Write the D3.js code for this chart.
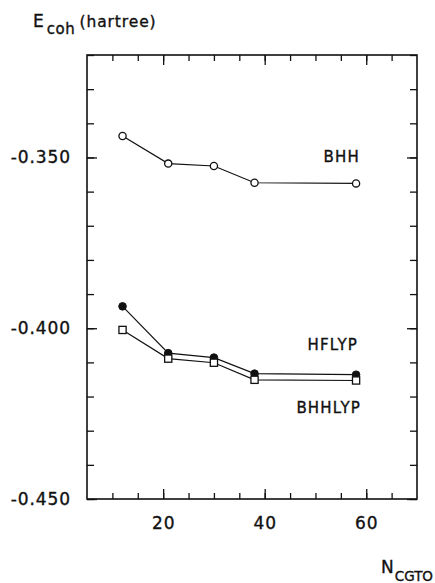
<!DOCTYPE html>
<html>
<head>
<meta charset="utf-8">
<script src="https://cdn.jsdelivr.net/npm/d3@7"></script>
<style>
  html, body { margin: 0; padding: 0; background: #fff; }
  svg { display: block; }
  text { font-family: "DejaVu Sans", "Liberation Sans", sans-serif; fill: #111; stroke: #111; stroke-width: 0.35px; }
</style>
</head>
<body>
<svg id="chart" width="435" height="583"></svg>
<script>
// Cohesive energy vs. number of contracted Gaussian orbitals
const nCGTO = [12, 21, 30, 38, 58];
const bhh = [-0.3437, -0.3518, -0.3525, -0.3574, -0.3576];
const hflyp = [-0.3936, -0.4073, -0.4086, -0.4133, -0.4136];
const bhhlyp = [-0.4005, -0.4089, -0.4101, -0.4151, -0.4153];

const xMinorTicks = d3.range(10, 70, 5);
const xMajorTicks = [20, 40, 60];
const yMinorTicks = d3.range(-45, -31, 1).map(v => v / 100);
const yMajorTicks = [-0.45, -0.40, -0.35];

const seriesLabels = ["BHH", "HFLYP", "BHHLYP"];

const svg = d3.select("#chart");
const plotLeft = 87, plotRight = 417, plotTop = 55, plotBottom = 499;

const x = d3.scaleLinear().domain([5, 70]).range([plotLeft, plotRight]);
const y = d3.scaleLinear().domain([-0.45, -0.32]).range([plotBottom, plotTop]);

// plain hyphen for negative numbers
const yFormat = v => d3.format(".3f")(v).replace("\u2212", "-");

const axisStyle = g => {
  g.select(".domain").remove();
  g.selectAll(".tick line").attr("stroke", "#111").attr("stroke-width", 1.3);
  g.selectAll(".tick text").style("font-size", "17px").style("letter-spacing", "0.9px").attr("fill", "#111");
};

// bottom axis: minor and major inward ticks
svg.append("g").attr("transform", `translate(0,${plotBottom})`)
  .call(d3.axisBottom(x).tickValues(xMinorTicks).tickSize(-6).tickFormat(""))
  .call(axisStyle);
svg.append("g").attr("transform", `translate(0,${plotBottom})`)
  .call(d3.axisBottom(x).tickValues(xMajorTicks).tickSize(-10).tickPadding(18).tickFormat(d3.format("d")))
  .call(axisStyle);
// top axis
svg.append("g").attr("transform", `translate(0,${plotTop})`)
  .call(d3.axisTop(x).tickValues(xMinorTicks).tickSize(-6).tickFormat(""))
  .call(axisStyle);
svg.append("g").attr("transform", `translate(0,${plotTop})`)
  .call(d3.axisTop(x).tickValues(xMajorTicks).tickSize(-10).tickFormat(""))
  .call(axisStyle);
// left axis
svg.append("g").attr("transform", `translate(${plotLeft},0)`)
  .call(d3.axisLeft(y).tickValues(yMinorTicks).tickSize(-7).tickFormat(""))
  .call(axisStyle);
svg.append("g").attr("transform", `translate(${plotLeft},0)`)
  .call(d3.axisLeft(y).tickValues(yMajorTicks).tickSize(-10).tickPadding(16).tickFormat(yFormat))
  .call(axisStyle);
// right axis
svg.append("g").attr("transform", `translate(${plotRight},0)`)
  .call(d3.axisRight(y).tickValues(yMinorTicks).tickSize(-7).tickFormat(""))
  .call(axisStyle);
svg.append("g").attr("transform", `translate(${plotRight},0)`)
  .call(d3.axisRight(y).tickValues(yMajorTicks).tickSize(-10).tickFormat(""))
  .call(axisStyle);

// frame
svg.append("rect")
  .attr("x", plotLeft).attr("y", plotTop)
  .attr("width", plotRight - plotLeft).attr("height", plotBottom - plotTop)
  .attr("fill", "none").attr("stroke", "#111").attr("stroke-width", 1.6);

const line = d3.line().x((d, i) => x(nCGTO[i])).y(d => y(d));

[bhh, hflyp, bhhlyp].forEach(s => {
  svg.append("path").datum(s).attr("d", line)
    .attr("fill", "none").attr("stroke", "#111").attr("stroke-width", 1.2);
});

// markers
svg.append("g").selectAll("circle").data(bhh).join("circle")
  .attr("cx", (d, i) => x(nCGTO[i])).attr("cy", d => y(d)).attr("r", 3.6)
  .attr("fill", "#fff").attr("stroke", "#111").attr("stroke-width", 1.3);
svg.append("g").selectAll("circle").data(hflyp).join("circle")
  .attr("cx", (d, i) => x(nCGTO[i])).attr("cy", d => y(d)).attr("r", 3.8)
  .attr("fill", "#111").attr("stroke", "#111").attr("stroke-width", 1);
svg.append("g").selectAll("rect").data(bhhlyp).join("rect")
  .attr("x", (d, i) => x(nCGTO[i]) - 3.6).attr("y", d => y(d) - 3.6)
  .attr("width", 7.2).attr("height", 7.2)
  .attr("fill", "#fff").attr("stroke", "#111").attr("stroke-width", 1.3);

// series labels
const labelPos = [[360, 162], [358, 350], [361, 413]];
seriesLabels.forEach((t, i) => {
  svg.append("text").attr("x", labelPos[i][0]).attr("y", labelPos[i][1])
    .attr("text-anchor", "end").style("font-size", "15px").style("letter-spacing", "1.2px")
    .text(t);
});

// axis titles
const yTitle = svg.append("text").attr("x", 33).attr("y", 27).style("font-size", "17px");
yTitle.append("tspan").text("E");
yTitle.append("tspan").attr("dy", 7).attr("dx", 3).style("font-size", "15px").style("letter-spacing", "0.6px").text("coh");
yTitle.append("tspan").attr("dy", -7).attr("dx", 4).style("font-size", "15.5px").style("letter-spacing", "0.9px").text("(hartree)");

const xTitle = svg.append("text").attr("x", 381).attr("y", 573).style("font-size", "17px");
xTitle.append("tspan").text("N");
xTitle.append("tspan").attr("dy", 8).attr("dx", 1).style("font-size", "13.5px").text("CGTO");
</script>
</body>
</html>
